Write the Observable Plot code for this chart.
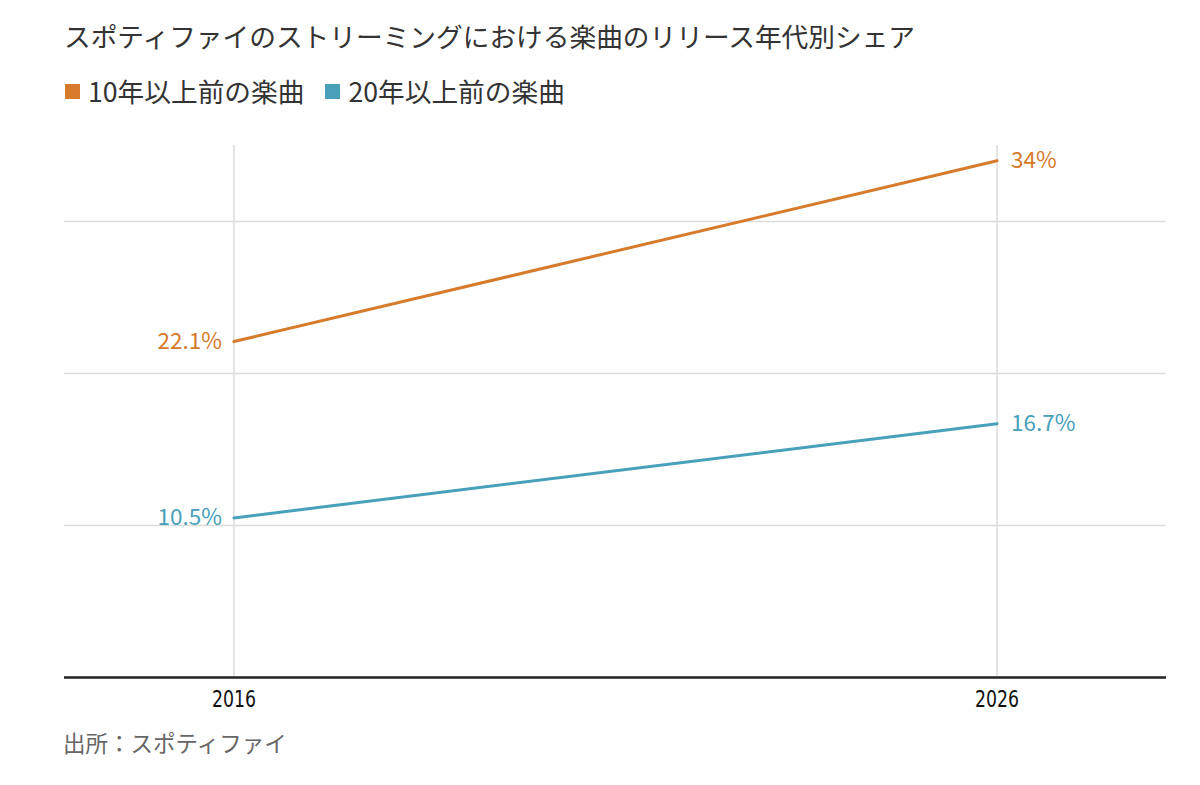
<!DOCTYPE html>
<html><head><meta charset="utf-8">
<script src="https://cdn.jsdelivr.net/npm/d3@7"></script>
<script src="https://cdn.jsdelivr.net/npm/@observablehq/plot@0.6"></script>
<style>
  html,body{margin:0;padding:0;background:#fff;width:1200px;height:785px;overflow:hidden;}
  #wrap{position:relative;width:1200px;height:785px;font-family:"Noto Sans CJK JP","Noto Sans",sans-serif;}
  #title{position:absolute;left:64px;top:22px;font-size:26.7px;line-height:28px;color:#333;white-space:nowrap;}
  #legend{position:absolute;left:65px;top:77px;font-size:26.7px;line-height:28px;color:#333;display:flex;align-items:center;white-space:nowrap;}
  #legend .sw{display:inline-block;width:15px;height:15px;margin-right:8px;}
  #legend .item{display:flex;align-items:center;margin-right:21px;}
  #chart{position:absolute;left:0;top:120px;}
  #source{position:absolute;left:63px;top:729px;font-size:22.5px;line-height:26px;color:#666;white-space:nowrap;}
</style></head>
<body><div id="wrap">
<div id="title"></div>
<div id="legend"></div>
<div id="chart"></div>
<div id="source"></div>
</div>
<script>
const titleText = "スポティファイのストリーミングにおける楽曲のリリース年代別シェア";
const sourceText = "出所：スポティファイ";
const years = [2016, 2026];
const seriesNames = ["10年以上前の楽曲", "20年以上前の楽曲"];
const seriesColors = ["#d67a2c", "#48a0bb"];
const older10 = [22.1, 34];
const older20 = [10.5, 16.7];
const valueLabels10 = ["22.1%", "34%"];
const valueLabels20 = ["10.5%", "16.7%"];
const gridValues = [10, 20, 30];
const yMax = 35;

document.getElementById("title").textContent = titleText;
document.getElementById("source").textContent = sourceText;
const leg = document.getElementById("legend");
seriesNames.forEach((n, i) => {
  const it = document.createElement("span"); it.className = "item";
  const sw = document.createElement("span"); sw.className = "sw"; sw.style.background = seriesColors[i];
  const tx = document.createElement("span"); tx.textContent = n;
  it.appendChild(sw); it.appendChild(tx); leg.appendChild(it);
});

const data = [];
years.forEach((y, i) => {
  data.push({year: y, value: older10[i], series: seriesNames[0], label: valueLabels10[i]});
  data.push({year: y, value: older20[i], series: seriesNames[1], label: valueLabels20[i]});
});
const span = years[years.length - 1] - years[0];
const pad = span * 0.222;

const chart = Plot.plot({
  width: 1200,
  height: 600,
  marginLeft: 64,
  marginRight: 34,
  marginTop: 25,
  marginBottom: 43,
  x: {domain: [years[0] - pad, years[years.length - 1] + pad]},
  y: {domain: [0, yMax], axis: null},
  color: {domain: seriesNames, range: seriesColors},
  style: {fontFamily: '"Noto Sans CJK JP","Noto Sans",sans-serif', background: "#fff"},
  marks: [
    Plot.ruleY(gridValues, {stroke: "#dcdcdc", strokeWidth: 1.5}),
    Plot.ruleX(years, {y1: 0, y2: yMax, stroke: "#dcdcdc", strokeWidth: 1.5}),
    Plot.line(data, {x: "year", y: "value", z: "series", stroke: "series", strokeWidth: 3}),
    Plot.text(data.filter(d => d.year === years[0]), {x: "year", y: "value", text: "label", fill: "series", textAnchor: "end", dx: -12, fontSize: 22.5}),
    Plot.text(data.filter(d => d.year === years[1]), {x: "year", y: "value", text: "label", fill: "series", textAnchor: "start", dx: 14, fontSize: 22.5}),
    Plot.ruleY([0], {stroke: "#222", strokeWidth: 2.5}),
    Plot.axisX({ticks: years, tickSize: 0, tickPadding: 13, tickFormat: d => String(d), fontSize: 23, fontFamily: '"Liberation Sans Narrow","DejaVu Sans Condensed",sans-serif', fill: "#111", label: null, ariaLabel: "x-axis"})
  ]
});
// condense the year tick labels like the reference's narrow typeface
d3.select(chart).selectAll('g[aria-label="x-axis"] text, g[aria-label="x-axis tick label"] text')
  .attr("textLength", 44).attr("lengthAdjust", "spacingAndGlyphs");
document.getElementById("chart").appendChild(chart);
</script>
</body></html>
